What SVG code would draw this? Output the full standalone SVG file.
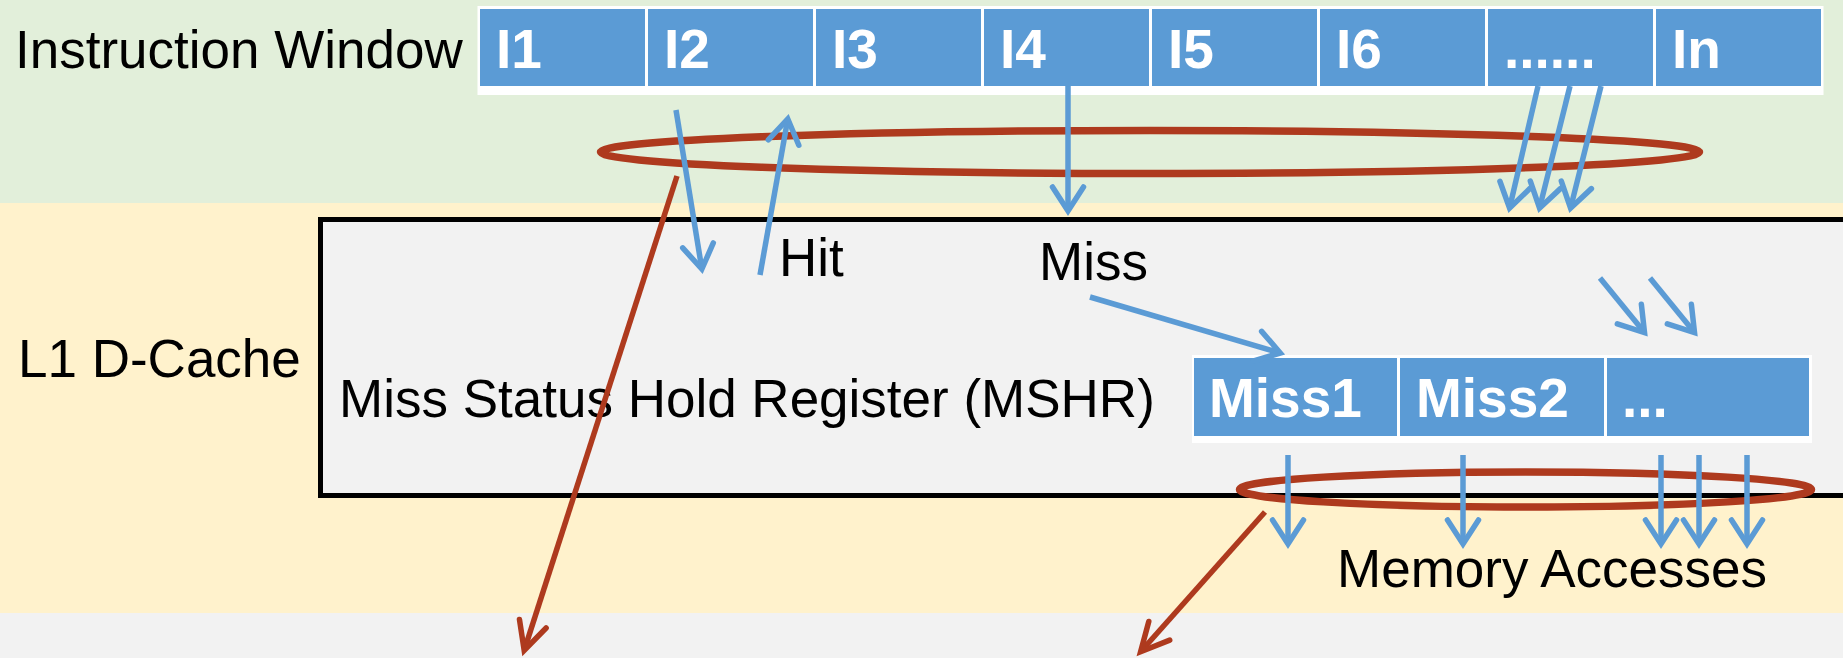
<svg xmlns="http://www.w3.org/2000/svg" width="1843" height="658" viewBox="0 0 1843 658">
<style>
.lbl{font-family:"Liberation Sans",Arial,sans-serif;font-size:53px;fill:#000}
.cell{fill:#5B9BD5}
.ct{font-family:"Liberation Sans",Arial,sans-serif;font-size:55px;font-weight:bold;fill:#fff}
.blue{fill:none;stroke:#5B9BD5;stroke-width:5.5;stroke-linecap:butt}
.red{fill:none;stroke:#AE3A1E;stroke-width:5.5;stroke-linecap:butt}
.ell{fill:none;stroke:#AE3A1E;stroke-width:7.5}
</style>
<defs>
<marker id="ab" markerUnits="userSpaceOnUse" orient="auto" overflow="visible" markerWidth="1" markerHeight="1" refX="0" refY="0">
<path d="M-23,-15.5 L1,0 L-23,15.5" fill="none" stroke="#5B9BD5" stroke-width="5.5" stroke-linecap="round" stroke-linejoin="miter"/>
</marker>
<marker id="ar" markerUnits="userSpaceOnUse" orient="auto" overflow="visible" markerWidth="1" markerHeight="1" refX="0" refY="0">
<path d="M-27,-14 L1,0 L-27,14" fill="none" stroke="#AE3A1E" stroke-width="5.5" stroke-linecap="round" stroke-linejoin="miter"/>
</marker>
</defs>

<g id="background">
<rect x="0" y="0" width="1843" height="658" fill="#F2F2F2"/>
<rect x="0" y="0" width="1843" height="203" fill="#E2EFDA"/>
<rect x="0" y="203" width="1843" height="410" fill="#FFF2CC"/>
</g>

<g id="l1-dcache">
<rect x="320.5" y="219.5" width="1540" height="276" fill="#F2F2F2" stroke="#000" stroke-width="5"/>
<text class="lbl" x="18" y="377">L1 D-Cache</text>
<text class="lbl" x="339" y="417">Miss Status Hold Register (MSHR)</text>
</g>

<g id="instruction-window">
<text class="lbl" x="15" y="68">Instruction Window</text>
<rect x="477.5" y="6" width="1346" height="89" fill="#fff"/>
<rect class="cell" x="480" y="9" width="165" height="77"/>
<rect class="cell" x="648" y="9" width="165" height="77"/>
<rect class="cell" x="816" y="9" width="165" height="77"/>
<rect class="cell" x="984" y="9" width="165" height="77"/>
<rect class="cell" x="1152" y="9" width="165" height="77"/>
<rect class="cell" x="1320" y="9" width="165" height="77"/>
<rect class="cell" x="1488" y="9" width="165" height="77"/>
<rect class="cell" x="1656" y="9" width="165" height="77"/>
<text class="ct" x="496" y="68">I1</text>
<text class="ct" x="664" y="68">I2</text>
<text class="ct" x="832" y="68">I3</text>
<text class="ct" x="1000" y="68">I4</text>
<text class="ct" x="1168" y="68">I5</text>
<text class="ct" x="1336" y="68">I6</text>
<text class="ct" x="1504" y="68">......</text>
<text class="ct" x="1672" y="68">In</text>
</g>

<g id="mshr">
<rect x="1192" y="355" width="620" height="88" fill="#fff"/>
<rect class="cell" x="1194" y="358" width="203" height="78"/>
<rect class="cell" x="1400" y="358" width="204" height="78"/>
<rect class="cell" x="1607" y="358" width="202" height="78"/>
<text class="ct" x="1209" y="417">Miss1</text>
<text class="ct" x="1416" y="417">Miss2</text>
<text class="ct" x="1622" y="417">...</text>
</g>

<g id="labels">
<text class="lbl" x="779" y="276">Hit</text>
<text class="lbl" x="1039" y="280">Miss</text>
<text class="lbl" x="1337" y="587">Memory Accesses</text>
</g>

<g id="connectors">
<ellipse class="ell" cx="1150" cy="152" rx="549.5" ry="21.5"/>
<ellipse class="ell" cx="1525.5" cy="489.5" rx="286" ry="17.5"/>
<line class="blue" x1="676" y1="110" x2="701.7" y2="268.1" marker-end="url(#ab)"/>
<line class="blue" x1="760" y1="275" x2="787.6" y2="119.9" marker-end="url(#ab)"/>
<line class="blue" x1="1068" y1="86" x2="1068" y2="210" marker-end="url(#ab)"/>
<line class="blue" x1="1538" y1="86" x2="1509.8" y2="207.2" marker-end="url(#ab)"/>
<line class="blue" x1="1570" y1="86" x2="1539.8" y2="207.2" marker-end="url(#ab)"/>
<line class="blue" x1="1601" y1="86" x2="1570.8" y2="207.2" marker-end="url(#ab)"/>
<line class="blue" x1="1090" y1="297" x2="1279.3" y2="352.7" marker-end="url(#ab)"/>
<line class="blue" x1="1600" y1="278" x2="1643.9" y2="331.8" marker-end="url(#ab)"/>
<line class="blue" x1="1650" y1="278" x2="1693.9" y2="331.8" marker-end="url(#ab)"/>
<line class="blue" x1="1288" y1="455" x2="1288" y2="543" marker-end="url(#ab)"/>
<line class="blue" x1="1463" y1="455" x2="1463" y2="543" marker-end="url(#ab)"/>
<line class="blue" x1="1661" y1="455" x2="1661" y2="543" marker-end="url(#ab)"/>
<line class="blue" x1="1699" y1="455" x2="1699" y2="543" marker-end="url(#ab)"/>
<line class="blue" x1="1747" y1="455" x2="1747" y2="543" marker-end="url(#ab)"/>
<line class="red" x1="677" y1="176" x2="524.5" y2="649.4" marker-end="url(#ar)"/>
<line class="red" x1="1265" y1="512" x2="1141.3" y2="651" marker-end="url(#ar)"/>
</g>
</svg>
